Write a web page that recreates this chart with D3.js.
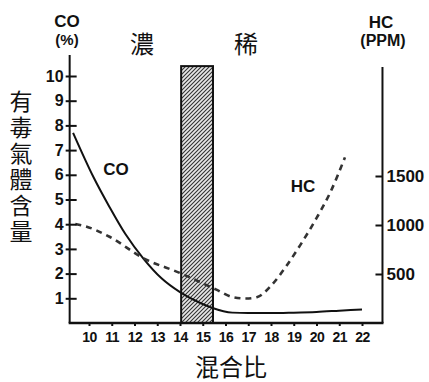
<!DOCTYPE html>
<html>
<head>
<meta charset="utf-8">
<script src="https://cdn.jsdelivr.net/npm/d3@7"></script>
<style>
  body { margin: 0; background: #fff; }
  svg { display: block; }
  .num { font-family: "Liberation Sans", Arial, sans-serif; font-weight: bold; fill: #111; }
  .cjk { font-family: "Noto Sans CJK TC", "Noto Sans CJK SC", sans-serif; fill: #111; }
</style>
</head>
<body>
<svg id="chart" width="429" height="382"></svg>
<script>
// 混合比 (空燃比)
var ratioTicks = [10, 11, 12, 13, 14, 15, 16, 17, 18, 19, 20, 21, 22];
var coTicks = [1, 2, 3, 4, 5, 6, 7, 8, 9, 10];
var hcTicks = [500, 1000, 1500];

// CO (%) 曲線
var coRatio = [9.3, 10.2, 10.9, 11.6, 12.4, 13.2, 14.0, 14.8, 15.4, 16.3, 17, 18, 19, 20, 21, 22];
var coValue = [7.7, 5.9, 4.7, 3.6, 2.6, 1.8, 1.25, 0.85, 0.62, 0.42, 0.4, 0.4, 0.42, 0.45, 0.5, 0.55];

// HC (PPM) 曲線
var hcRatio = [9.4, 9.8, 10.9, 12.4, 14.0, 15.6, 16.3, 16.9, 17.4, 18.0, 18.7, 19.3, 20.0, 20.6, 21.25];
var hcValue = [1010, 990, 880, 660, 510, 340, 265, 250, 265, 380, 590, 800, 1070, 1330, 1690];

// 濃 / 稀 の間の理論空燃比帯
var bandRange = [14.05, 15.45];
var bandTop = 10.4;

var svg = d3.select("#chart");

var x = d3.scaleLinear().domain([10, 22]).range([89, 362]);
var yCO = d3.scaleLinear().domain([0, 10]).range([323, 76]);
var yHC = d3.scaleLinear().domain([0, 1500]).range([323, 176]);

var xLeft = x(9.15), xRight = x(22.9);

// hatch pattern
var defs = svg.append("defs");
var pat = defs.append("pattern")
    .attr("id", "hatch")
    .attr("patternUnits", "userSpaceOnUse")
    .attr("width", 4).attr("height", 4);
pat.append("rect").attr("width", 4).attr("height", 4).attr("fill", "#e8e8e8");
pat.append("path")
    .attr("d", "M-1,1 l2,-2 M0,4 l4,-4 M3,5 l2,-2")
    .attr("stroke", "#333").attr("stroke-width", 1.1);

// band
svg.append("rect")
    .attr("x", x(bandRange[0]))
    .attr("y", yCO(bandTop))
    .attr("width", x(bandRange[1]) - x(bandRange[0]))
    .attr("height", yCO(0) - yCO(bandTop))
    .attr("fill", "url(#hatch)")
    .attr("stroke", "#111")
    .attr("stroke-width", 2);

// curves
var coLine = d3.line()
    .x(function(d, i){ return x(coRatio[i]); })
    .y(function(d){ return yCO(d); })
    .curve(d3.curveMonotoneX);
svg.append("path")
    .datum(coValue)
    .attr("d", coLine)
    .attr("fill", "none")
    .attr("stroke", "#111")
    .attr("stroke-width", 2);

var hcLine = d3.line()
    .x(function(d, i){ return x(hcRatio[i]); })
    .y(function(d){ return yHC(d); })
    .curve(d3.curveMonotoneX);
svg.append("path")
    .datum(hcValue)
    .attr("d", hcLine)
    .attr("fill", "none")
    .attr("stroke", "#333")
    .attr("stroke-width", 2.6)
    .attr("stroke-dasharray", "6,5");

// axes
var gL = svg.append("g").attr("transform", "translate(" + xLeft + ",0)")
    .call(d3.axisLeft(yCO).tickValues(coTicks).tickSizeInner(-7).tickSizeOuter(0).tickPadding(6));
var gR = svg.append("g").attr("transform", "translate(" + xRight + ",0)")
    .call(d3.axisRight(yHC).tickValues(hcTicks).tickFormat(d3.format("d"))
        .tickSizeInner(-7).tickSizeOuter(0).tickPadding(4));
var gB = svg.append("g").attr("transform", "translate(0," + yCO(0) + ")")
    .call(d3.axisBottom(x).tickValues(ratioTicks).tickSizeInner(3).tickSizeOuter(0).tickPadding(6));

[gL, gR, gB].forEach(function(g){
    g.select(".domain").remove();
    g.selectAll(".tick line").attr("stroke", "#111").attr("stroke-width", 2);
    g.selectAll(".tick text")
        .attr("fill", "#111")
        .style("font-family", "'Liberation Sans', Arial, sans-serif")
        .style("font-weight", "bold");
});
gL.selectAll(".tick line").attr("x1", -4);
gL.selectAll(".tick text").style("font-size", "16px");
gR.selectAll(".tick text").style("font-size", "17px");
gB.selectAll(".tick text").style("font-size", "14px").style("letter-spacing", "-0.5px");

// axis lines
svg.append("line")
    .attr("x1", xLeft).attr("x2", xLeft)
    .attr("y1", 55).attr("y2", yCO(0))
    .attr("stroke", "#111").attr("stroke-width", 2);
svg.append("line")
    .attr("x1", xRight).attr("x2", xRight)
    .attr("y1", 67).attr("y2", yCO(0))
    .attr("stroke", "#111").attr("stroke-width", 2);
svg.append("line")
    .attr("x1", xLeft - 1).attr("x2", xRight + 1)
    .attr("y1", yCO(0)).attr("y2", yCO(0))
    .attr("stroke", "#111").attr("stroke-width", 2.5);

// labels
function txt(cls, tx, ty, size, s, anchor) {
    return svg.append("text")
        .attr("class", cls)
        .attr("x", tx).attr("y", ty)
        .attr("text-anchor", anchor || "middle")
        .style("font-size", size + "px")
        .text(s);
}
txt("num", 67, 27, 17, "CO");
txt("num", 67, 45, 15, "(%)");
txt("num", 381, 28, 17, "HC");
txt("num", 383, 46, 16, "(PPM)");
txt("cjk", 142, 53, 24, "濃");
txt("cjk", 246, 53, 24, "稀");
txt("num", 116, 175, 17, "CO");
txt("num", 303, 192, 17, "HC");
txt("cjk", 231, 376, 24, "混合比");

// 縦書きの軸名
svg.append("text")
    .attr("class", "cjk")
    .attr("x", 21)
    .attr("y", 90)
    .style("font-size", "23px")
    .style("writing-mode", "vertical-rl")
    .style("text-orientation", "upright")
    .style("letter-spacing", "3px")
    .text("有毒氣體含量");
</script>
</body>
</html>
